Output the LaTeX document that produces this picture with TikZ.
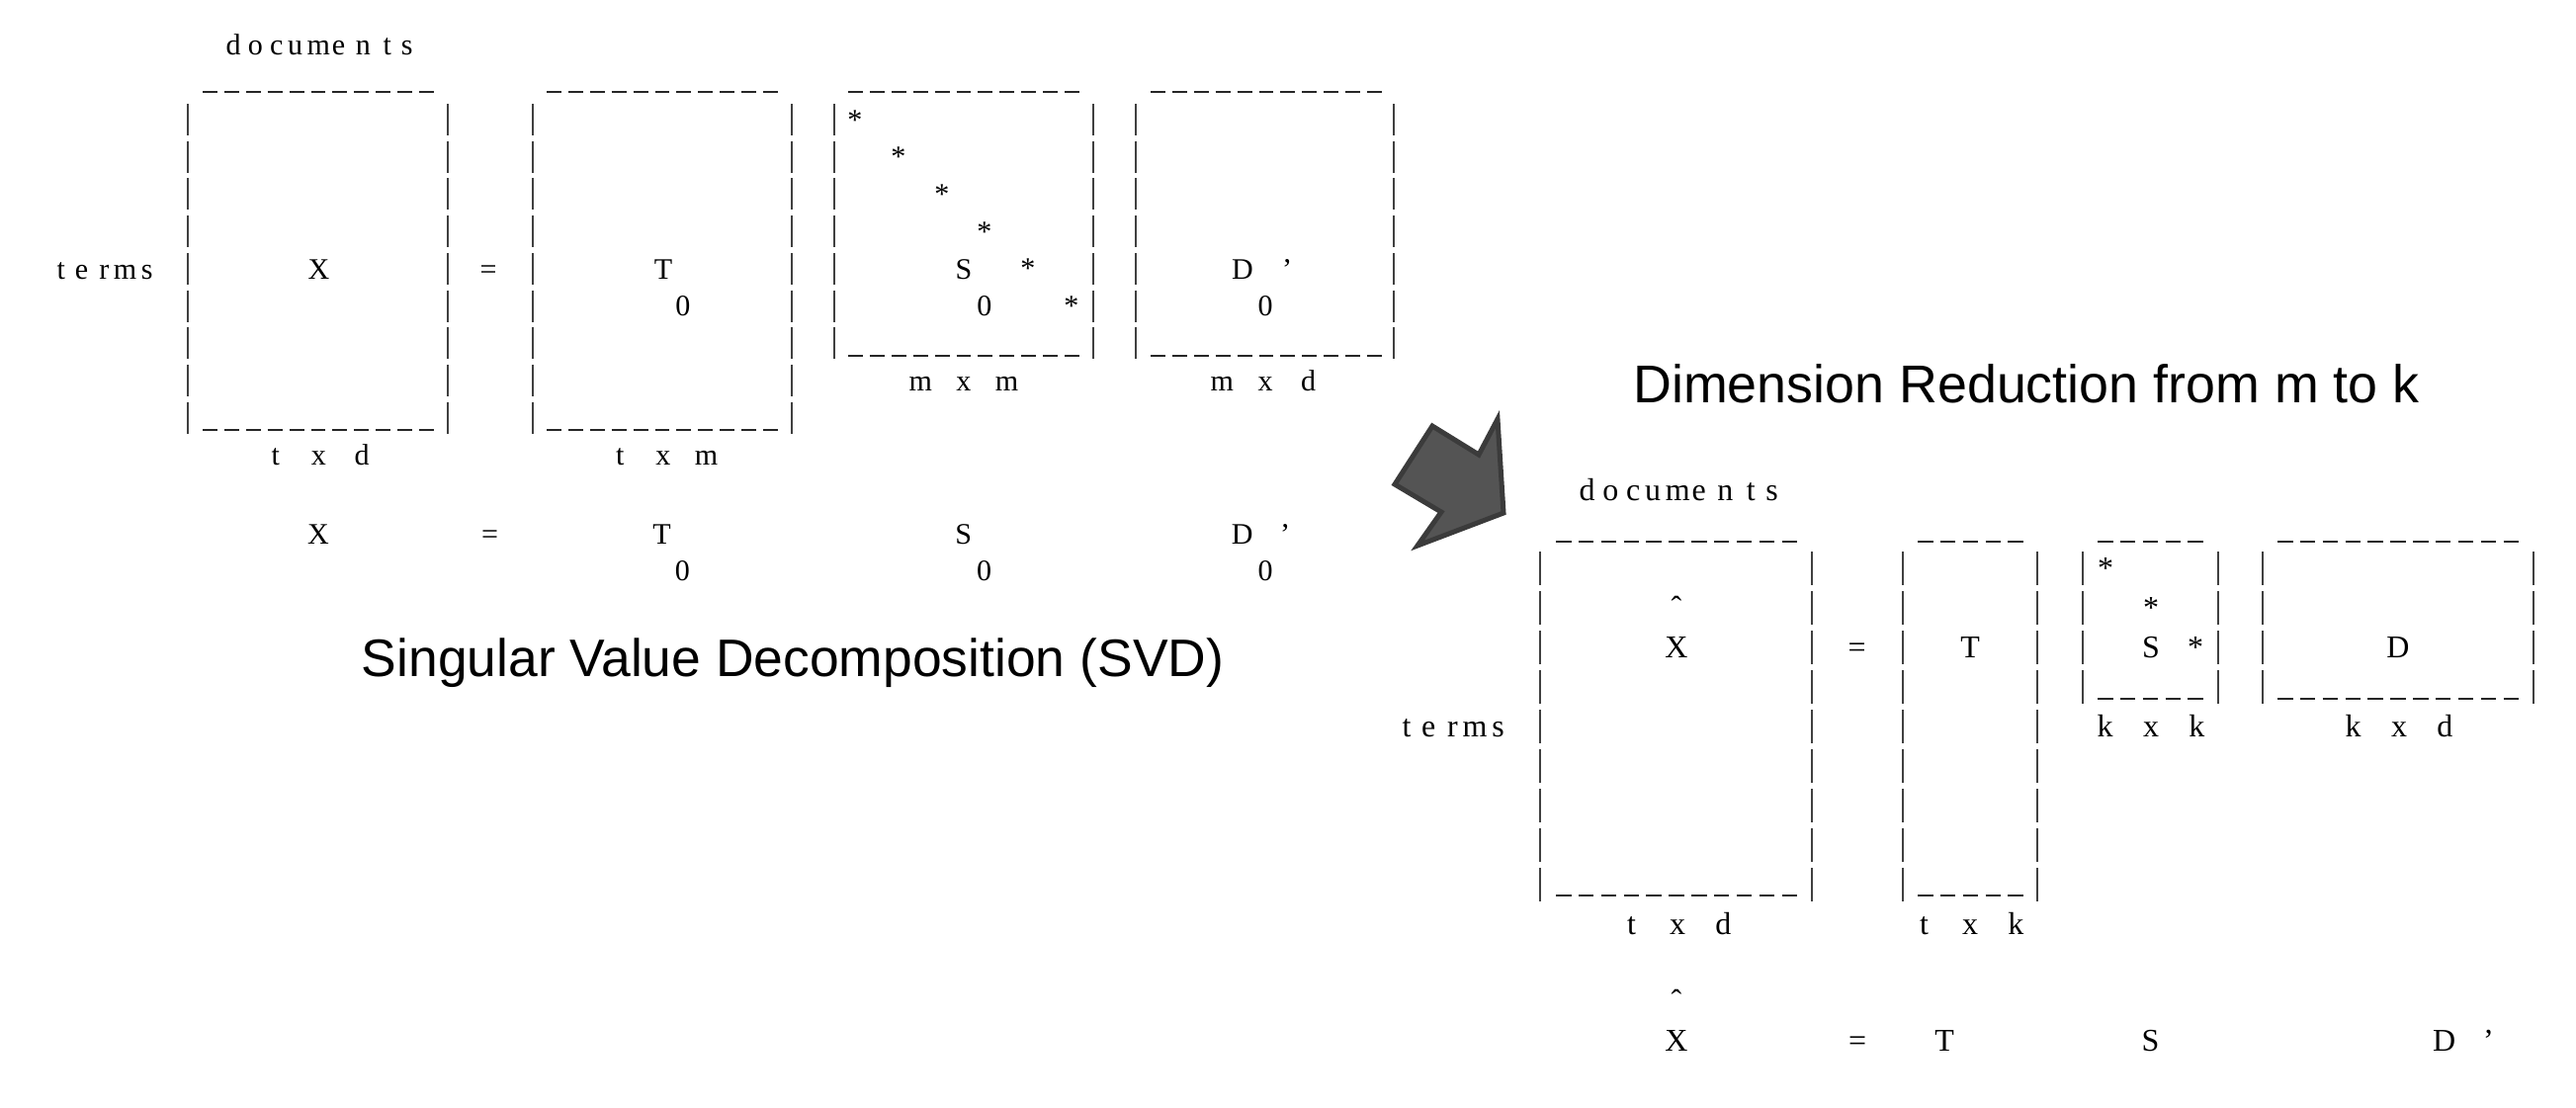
\documentclass[tikz,border=0pt]{standalone}
\usepackage{fontspec}
\setmainfont{Liberation Serif}
\newfontfamily\sansf{Liberation Sans}
\newcommand\fL{\fontsize{8.55}{10}\selectfont}
\newcommand\fR{\fontsize{9.1}{11}\selectfont}
\newcommand\docword{d\hspace{0.24em}o\hspace{0.24em}c\hspace{0.15em}u\hspace{0.15em}m\hspace{0.06em}e\hspace{0.36em}n\hspace{0.42em}t\hspace{0.33em}s}
\newcommand\termword{t\hspace{0.33em}e\hspace{0.37em}r\hspace{0.15em}m\hspace{0.15em}s}
\newcommand\dimlab[3]{\makebox[1.45em]{#1}\makebox[1.45em]{#2}\makebox[1.45em]{#3}}
\newcommand\vbars[5]{\foreach \ii in {1,...,#3}{\draw[barline] (#1,{#2+(\ii-1)*#4}) -- ++(0,#5);}}
\newcommand\ulines[5]{\foreach \ii in {1,...,#3}{\draw[dashline] ({#1+(\ii-1)*#4},#2) -- ++(#5,0);}}
\begin{document}
\begin{tikzpicture}[x=0.01cm,y=-0.01cm,
  barline/.style={line width=0.022cm,black!75},
  dashline/.style={line width=0.028cm,black!85},
  mtL/.style={font=\fL,inner sep=0pt,anchor=base},
  mtR/.style={font=\fR,inner sep=0pt,anchor=base},
  title/.style={inner sep=0pt,anchor=base},
  arrowshape/.style={fill=black!67,draw=black!77,line width=0.05cm,line join=miter}]
\useasboundingbox[fill=white] (0,0) rectangle (2606,1120);

% ---------------- left: SVD ----------------
\node[mtL,anchor=base west] (docL) at (228,55) {\docword};
\node[mtL,anchor=base west] (termsL) at (57,282) {\termword};
% bars
\vbars{190}{105}{9}{37.7}{32}
\vbars{453}{105}{9}{37.7}{32}
\vbars{539}{105}{9}{37.7}{32}
\vbars{801}{105}{9}{37.7}{32}
\vbars{844}{105}{7}{37.7}{32}
\vbars{1106}{105}{7}{37.7}{32}
\vbars{1149}{105}{7}{37.7}{32}
\vbars{1410}{105}{7}{37.7}{32}
% underscores
\ulines{205}{93}{11}{21.9}{14.9}
\ulines{553}{93}{11}{21.9}{14.9}
\ulines{858}{93}{11}{21.9}{14.9}
\ulines{1164}{93}{11}{21.9}{14.9}
\ulines{205}{435}{11}{21.9}{14.9}
\ulines{553}{435}{11}{21.9}{14.9}
\ulines{858}{360}{11}{21.9}{14.9}
\ulines{1164}{360}{11}{21.9}{14.9}
% contents
\node[mtL] (XL) at (322.5,282) {X};
\node[mtL] (eqL) at (494,282) {=};
\node[mtL] (TL) at (671,282) {T};
\node[mtL] (T0L) at (691,319.5) {0};
\node[mtL] (SL) at (975,282) {S};
\node[mtL] (S0L) at (996,319.5) {0};
\foreach \px/\py [count=\c] in {865/131,909/168.7,953/206.4,996/244.1,1040/281.8,1084/319.5}
  \node[mtL] (astL\c) at (\px,\py) {*};
\node[mtL] (DL) at (1257,282) {D};
\node[mtL] (DqL) at (1302,282) {’};
\node[mtL] (D0L) at (1280,319.5) {0};
\node[mtL] (labXL) at (322.5,470) {\dimlab{t}{x}{d}};
\node[mtL] (labTL) at (671,470) {\dimlab{t}{x}{m}};
\node[mtL] (labSL) at (975,395) {\dimlab{m}{x}{m}};
\node[mtL] (labDL) at (1280,395) {\dimlab{m}{x}{d}};
% equation row
\node[mtL] (eXL) at (322,550) {X};
\node[mtL] (eeqL) at (495.5,550) {=};
\node[mtL] (eTL) at (669.5,550) {T};
\node[mtL] (eT0L) at (690.5,587) {0};
\node[mtL] (eSL) at (974.7,550) {S};
\node[mtL] (eS0L) at (995.7,587) {0};
\node[mtL] (eDL) at (1256.7,550) {D};
\node[mtL] (eDqL) at (1300,550) {’};
\node[mtL] (eD0L) at (1280,587) {0};
\node[title,font=\sansf\fontsize{15.2}{18}\selectfont] (svd) at (802,684) {Singular Value Decomposition (SVD)};

% ---------------- arrow ----------------
\draw[arrowshape] (1449,431) -- (1496,460) -- (1515,424) -- (1521,519) -- (1434,552) -- (1458,518) -- (1411,490) -- cycle;

% ---------------- right: reduction ----------------
\node[title,font=\sansf\fontsize{15.3}{18}\selectfont] (dimred) at (2050,407) {Dimension Reduction from m to k};
\node[mtR,anchor=base west] (docR) at (1597,506) {\docword};
\node[mtR,anchor=base west] (termsR) at (1418,745.6) {\termword};
\vbars{1558}{558}{9}{40}{34}
\vbars{1833}{558}{9}{40}{34}
\vbars{1925}{558}{9}{40}{34}
\vbars{2061}{558}{9}{40}{34}
\vbars{2107}{558}{4}{40}{34}
\vbars{2244}{558}{4}{40}{34}
\vbars{2289}{558}{4}{40}{34}
\vbars{2563}{558}{4}{40}{34}
\ulines{1574}{548}{11}{22.85}{15.5}
\ulines{1940}{548}{5}{22.85}{15.5}
\ulines{2122}{548}{5}{22.85}{15.5}
\ulines{2304}{548}{11}{22.85}{15.5}
\ulines{1574}{906}{11}{22.85}{15.5}
\ulines{1940}{906}{5}{22.85}{15.5}
\ulines{2122}{707}{5}{22.85}{15.5}
\ulines{2304}{707}{11}{22.85}{15.5}
\node[mtR] (hatR) at (1696,625.6) {\symbol{"02C6}};
\node[mtR] (XR) at (1696,665.6) {X};
\node[mtR] (eqR) at (1878.6,665.6) {=};
\node[mtR] (TR) at (1993,665.6) {T};
\node[mtR] (SR) at (2176,665.6) {S};
\foreach \px/\py [count=\c] in {2130/585.6,2176/625.6,2221/665.6}
  \node[mtR] (astR\c) at (\px,\py) {*};
\node[mtR] (DR) at (2426,665.6) {D};
\node[mtR] (labXR) at (1697,945.6) {\dimlab{t}{x}{d}};
\node[mtR] (labTR) at (1993,945.6) {\dimlab{t}{x}{k}};
\node[mtR] (labSR) at (2176,745.6) {\dimlab{k}{x}{k}};
\node[mtR] (labDR) at (2427,745.6) {\dimlab{k}{x}{d}};
% equation row
\node[mtR] (ehatR) at (1696,1023) {\symbol{"02C6}};
\node[mtR] (eXR) at (1696,1063) {X};
\node[mtR] (eeqR) at (1879,1063) {=};
\node[mtR] (eTR) at (1967,1063) {T};
\node[mtR] (eSR) at (2175.5,1063) {S};
\node[mtR] (eDR) at (2472.6,1063) {D};
\node[mtR] (eDqR) at (2517.5,1063) {’};
\end{tikzpicture}
\end{document}
